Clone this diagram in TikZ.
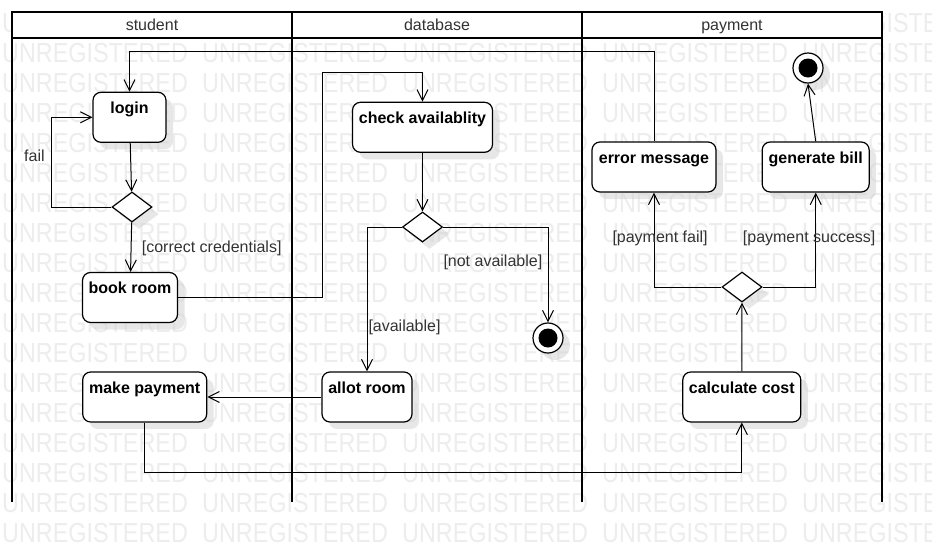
\documentclass[tikz,border=0pt]{standalone}
\usepackage{fontspec}
\setmainfont{Liberation Sans}
\usetikzlibrary{shapes.geometric,arrows.meta,shadows}
\begin{document}
\begin{tikzpicture}[x=1pt, y=-1pt, font=\fontsize{16}{19}\selectfont,
  wm/.style = {anchor=base west, inner sep=0pt, text=black!7, font=\fontsize{27.5}{30}\selectfont, xscale=0.85},
  lane/.style = {line width=2pt},
  hd/.style = {anchor=base, inner sep=0pt, text=black!80},
  shd/.style = {drop shadow={shadow xshift=7pt, shadow yshift=-7pt, fill=black!18, opacity=.5}},
  act/.style = {draw, shd, fill=white, rounded corners=8pt, line width=1.2pt, font=\fontsize{16}{19}\selectfont\bfseries, inner xsep=0pt, inner ysep=9pt, text height=12pt, text depth=20pt, minimum width=#1pt},
  dec/.style = {diamond, draw, shd, fill=white, line width=1.2pt, inner sep=0pt, minimum width=40pt, minimum height=30pt},
  fin/.style = {circle, draw, shd, fill=white, line width=1.2pt, inner sep=0pt, minimum size=30pt, path picture={\fill[black] (path picture bounding box.center) circle[radius=9.5pt];}},
  flow/.style = {-{Straight Barb[length=11pt,width=11pt]}, line width=1pt},
  lbl/.style = {anchor=base west, inner sep=0pt, text=black!80}]
  \useasboundingbox (0,0) rectangle (932,552);
  \fill[white] (0,0) rectangle (932,552);
  \begin{scope}
    \clip (0,0) rectangle (932,552);
    \foreach \r in {0,...,17}
      \foreach \c in {0,...,4}
        \node[wm] (wm-\r-\c) at (2+200*\c, 32.5+30*\r) {UNREGISTERED};
  \end{scope}
  \draw[lane, fill=white] (12,12) rectangle (882,38);
  \foreach \x in {12,292,582,882}
    \draw[lane] (\x,12) -- (\x,502);
  \node[hd] (student) at (152,30.3) {student};
  \node[hd] (database) at (437,30.3) {database};
  \node[hd] (payment) at (732,30.3) {payment};
  \node[act=73] (login) at (129.5,117.3) {login};
  \node[dec] (d1) at (132,207) {};
  \node[act=95] (book) at (130,297.5) {book room};
  \node[act=124] (pay) at (144.7,397) {make payment};
  \node[act=140] (check) at (422.5,127.3) {check availablity};
  \node[dec] (d2) at (422.5,227) {};
  \node[fin] (fin1) at (548,338) {};
  \node[act=90] (allot) at (367,397) {allot room};
  \node[act=118] (calc) at (741.8,397) {calculate cost};
  \node[dec] (d3) at (742,287) {};
  \node[act=124] (err) at (654,167) {error message};
  \node[act=107] (gen) at (815.7,167) {generate bill};
  \node[fin] (fin2) at (808,68) {};
  \draw[flow] (login) -- (d1);
  \draw[flow] (d1.west) -- ++(-60,0) |- (login.west);
  \draw[flow] (d1) -- (book);
  \draw[flow] (book.east) -| (322,72) -| (check.north);
  \draw[flow] (check) -- (d2);
  \draw[flow] (d2.west) -| (allot.north);
  \draw[flow] (d2.east) -| (fin1.north);
  \draw[flow] (allot) -- (pay);
  \draw[flow] (pay.south) -- ++(0,50) -| (calc.south);
  \draw[flow] (calc) -- (d3);
  \draw[flow] (d3.west) -| (err.south);
  \draw[flow] (d3.east) -| (gen.south);
  \draw[flow] (gen.north) -- (fin2.south);
  \draw[flow] (err.north) -- ++(0,-90) -| (login.north);
  \node[lbl] (lfail) at (24,161) {fail};
  \node[lbl] (lcorrect) at (141.7,252.5) {[correct credentials]};
  \node[lbl] (lnot) at (443.3,266.5) {[not available]};
  \node[lbl] (lavail) at (368.3,331.5) {[available]};
  \node[lbl] (lpfail) at (612.3,242.5) {[payment fail]};
  \node[lbl] (lpsucc) at (742.7,242.5) {[payment success]};
\end{tikzpicture}
\end{document}
